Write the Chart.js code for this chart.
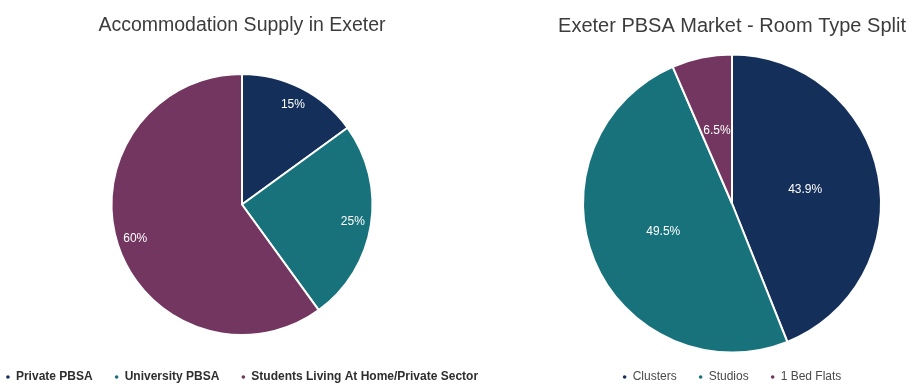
<!DOCTYPE html>
<html>
<head>
<meta charset="utf-8">
<script src="https://cdn.jsdelivr.net/npm/chart.js@4"></script>
<style>
    html, body { margin: 0; padding: 0; background: #fff; overflow: hidden; width: 912px; height: 387px; }
    .pie-box { position: absolute; top: 0; height: 393px; }
    #supply-box { left: -23px; width: 530px; }
    #rooms-box { left: 552px; width: 360px; }
</style>
</head>
<body>
<div class="pie-box" id="supply-box"><canvas id="supplyChart"></canvas></div>
<div class="pie-box" id="rooms-box"><canvas id="roomsChart"></canvas></div>
<script>
// Accommodation supply split (%)
const supplyLabels = ['Private PBSA', 'University PBSA', 'Students Living At Home/Private Sector'];
const supplyValues = [15, 25, 60];

// PBSA room type split (%)
const roomLabels = ['Clusters', 'Studios', '1 Bed Flats'];
const roomValues = [43.9, 49.5, 6.5];

const sliceColors = ['#14305a', '#17727b', '#733660'];
const fontFamily = '"Liberation Sans", Arial, Helvetica, sans-serif';

// Writes the percentage inside each slice
const sliceLabels = {
    id: 'sliceLabels',
    afterDatasetsDraw(chart, args, opts) {
        const ctx = chart.ctx;
        const meta = chart.getDatasetMeta(0);
        const values = chart.data.datasets[0].data;
        ctx.save();
        ctx.fillStyle = '#ffffff';
        ctx.font = opts.font;
        ctx.textAlign = 'center';
        ctx.textBaseline = 'middle';
        meta.data.forEach((arc, i) => {
            const p = arc.getProps(['x', 'y', 'startAngle', 'endAngle', 'outerRadius'], true);
            const mid = (p.startAngle + p.endAngle) / 2;
            const r = p.outerRadius * opts.radiusRatio;
            ctx.fillText(values[i] + '%', p.x + Math.cos(mid) * r, p.y + Math.sin(mid) * r);
        });
        ctx.restore();
    }
};

const makePie = (canvasId, title, labels, values, cfg) => {
    return new Chart(document.getElementById(canvasId), {
        type: 'pie',
        data: {
            labels: labels,
            datasets: [{
                data: values,
                backgroundColor: sliceColors,
                borderColor: '#ffffff',
                borderWidth: 2
            }]
        },
        options: {
            responsive: true,
            maintainAspectRatio: false,
            animation: false,
            radius: cfg.radius,
            plugins: {
                title: {
                    display: true,
                    text: title,
                    color: '#3c3c3c',
                    font: { family: fontFamily, size: cfg.titleSize, weight: 'normal' },
                    padding: { top: 14, bottom: cfg.titleGap }
                },
                legend: {
                    position: 'bottom',
                    labels: {
                        usePointStyle: true,
                        pointStyle: 'circle',
                        boxWidth: 4,
                        boxHeight: 4,
                        padding: 22,
                        color: cfg.legendColor,
                        font: { family: fontFamily, size: 12, weight: cfg.legendWeight }
                    }
                },
                tooltip: { enabled: false },
                sliceLabels: { font: '12px ' + fontFamily, radiusRatio: cfg.labelRatio }
            }
        },
        plugins: [sliceLabels]
    });
};

makePie('supplyChart', 'Accommodation Supply in Exeter', supplyLabels, supplyValues, {
    radius: 130.5, titleSize: 19.5, titleGap: 22.6, labelRatio: 0.86, legendColor: '#2e2e2e', legendWeight: 'bold'
});
makePie('roomsChart', 'Exeter PBSA Market - Room Type Split', roomLabels, roomValues, {
    radius: 149, titleSize: 20, titleGap: 20, labelRatio: 0.5, legendColor: '#4a4a4a', legendWeight: 'normal'
});
</script>
</body>
</html>
